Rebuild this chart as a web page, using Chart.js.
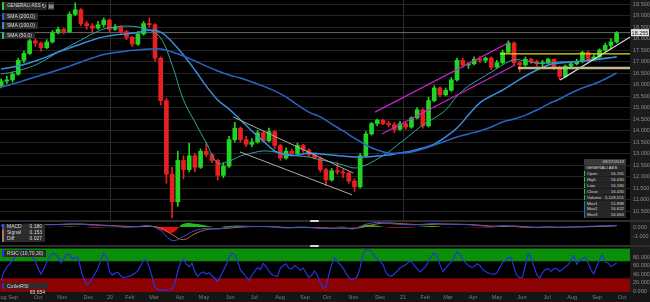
<!DOCTYPE html>
<html>
<head>
<meta charset="utf-8">
<script src="https://cdn.jsdelivr.net/npm/chart.js@4.4.1/dist/chart.umd.min.js"></script>
<style>
html, body { margin: 0; padding: 0; background: #000; width: 650px; height: 302px; overflow: hidden; }
body { font-family: "Liberation Sans", Arial, sans-serif; position: relative; }
canvas { position: absolute; left: 0; }
.blk { position: absolute; }
.lg { position: absolute; left: 2px; background: #2b2b2b; color: #dcdcdc; font-size: 5px; white-space: nowrap; padding: 0 3px 0 3px; box-sizing: border-box; }
.lg b { font-weight: normal; float: right; margin-left: 6px; }
.ico { position: absolute; top: 2px; width: 6px; height: 8px; background: #2b2b2b; color: #ccc; font-size: 6px; line-height: 8px; text-align: center; font-family: "DejaVu Sans", sans-serif; }
#info { position: absolute; left: 584px; top: 159px; width: 42px; background: #1d1d1d; font-size: 4.3px; color: #d8d8d8; }
#info div { height: 5.6px; line-height: 5.6px; padding: 0 2px; box-sizing: border-box; white-space: nowrap; }
#info .ih { background: #3a3a3a; text-align: right; }
#info .in { background: #2a2a2a; }
#info .ir { border-left: 1px solid #27c227; margin-top: 0.4px; background: #262626; }
#info .ir.m { border-left-color: #2f6fd0; }
#info .ir b { float: right; font-weight: normal; }
.handle { position: absolute; left: 310px; width: 9px; height: 2px; background: #d8d8d8; border-radius: 1px; }
</style>
</head>
<body>
<div class="blk" style="left:630px;top:0;width:20px;height:302px;background:#1c1c1c;"></div>
<div class="blk" style="left:0;top:292px;width:650px;height:10px;background:#151515;"></div>
<div class="blk" style="left:0;top:220px;width:650px;height:2px;background:#2e2e2e;"></div>
<div class="blk" style="left:0;top:245px;width:650px;height:2px;background:#2e2e2e;"></div>

<canvas id="priceChart" width="650" height="220" style="top:0"></canvas>
<canvas id="macdChart" width="650" height="23" style="top:222px"></canvas>
<canvas id="rsiChart" width="650" height="55" style="top:247px"></canvas>

<div class="handle" style="top:220px"></div>
<div class="handle" style="top:245px"></div>

<div class="lg" style="top:2px;height:8px;line-height:8px;font-size:4.6px;border-left:2px solid #2ecc2e;">GENERALI ASS</div>
<div class="ico" style="left:41px">&#8635;</div>
<div class="ico" style="left:48px">&#9636;</div>
<div class="lg" style="top:13px;height:7px;line-height:7px;border-left:2px solid #2a64c8;">SMA (200,0)</div>
<div class="lg" style="top:22px;height:7px;line-height:7px;border-left:2px solid #3a8ee0;">SMA (100,0)</div>
<div class="lg" style="top:32px;height:7px;line-height:7px;border-left:2px solid #2fb5a8;">SMA (50,0)</div>

<div id="info">
  <div class="ih">09/27/2019</div>
  <div class="in">GENERALI ASS</div>
  <div class="ir"><span>Open</span><b>16.265</b></div>
  <div class="ir"><span>High</span><b>16.430</b></div>
  <div class="ir"><span>Low</span><b>16.180</b></div>
  <div class="ir"><span>Close</span><b>16.430</b></div>
  <div class="ir"><span>Volume</span><b>5,128,551</b></div>
  <div class="ir m"><span>Mov1</span><b>15.898</b></div>
  <div class="ir m"><span>Mov2</span><b>16.622</b></div>
  <div class="ir m"><span>Mov3</span><b>16.663</b></div>
</div>

<div class="lg" style="top:224px;height:5.5px;line-height:5.5px;width:43px;border-left:2px solid #3355dd;">MACD<b>0.180</b></div>
<div class="lg" style="top:230px;height:5.5px;line-height:5.5px;width:43px;border-left:2px solid #d07030;">Signal<b>0.153</b></div>
<div class="lg" style="top:236px;height:5.5px;line-height:5.5px;width:43px;border-left:2px solid #888;">Diff<b>0.027</b></div>

<div class="lg" style="top:250px;height:7px;line-height:7px;border-left:2px solid #2535d8;">RSIC (10,70,30)</div>
<div class="lg" style="top:283px;height:6px;line-height:6px;width:46px;border-left:2px solid #2535d8;">CutlerRSI<b>65.654</b></div>

<script>
// weekly candles, week 0 = mid Aug 2019
const open  = [15.95,16.15,16.2,16.45,17.05,17.35,17.9,17.8,17.6,17.85,18.25,18.4,18.3,19.05,19.25,18.65,18.55,18.45,18.6,18.8,
               18.4,18.5,18.3,18.05,17.75,18.2,18.65,18.6,17.15,15.3,12.1,10.9,12.7,12.3,12.9,12.4,13.1,12.95,12.7,12.05,
               12.45,13.6,14.1,13.6,13.4,13.5,13.9,13.55,13.95,13.35,12.8,13.1,13.0,13.35,13.15,12.95,12.8,12.3,11.85,12.25,
               12.2,12.15,11.8,11.55,12.9,13.85,14.3,14.45,14.3,14.25,14.05,14.3,14.15,14.55,14.9,14.2,15.3,15.85,15.55,15.75,
               16.2,17.05,16.85,16.9,17.1,17.05,17.15,16.75,16.95,17.4,17.8,16.95,16.85,17.1,17.0,16.9,16.95,17.1,16.75,16.35,
               16.8,16.9,17.0,17.4,17.1,17.2,17.5,17.7,17.85];
const high  = [16.25,16.35,16.55,17.15,17.45,18.0,18.0,17.85,17.95,18.35,18.5,18.45,19.15,19.55,19.3,18.75,18.65,18.75,18.9,18.85,
               18.6,18.55,18.35,18.1,18.3,18.75,18.9,18.65,17.2,15.4,12.4,13.1,12.9,13.45,13.0,13.2,13.45,13.0,12.75,12.6,
               13.75,14.35,14.15,13.75,13.65,14.0,13.95,14.1,14.0,13.4,13.25,13.2,13.45,13.4,13.2,13.0,12.85,12.35,12.35,12.6,
               12.3,12.2,11.9,13.0,13.95,14.35,14.5,14.5,14.4,14.35,14.4,14.35,14.6,15.0,14.95,15.45,15.95,15.9,15.85,16.3,
               17.15,17.15,16.95,17.2,17.2,17.2,17.2,17.05,17.5,17.9,17.85,17.0,17.2,17.15,17.05,17.05,17.15,17.1,16.8,16.85,
               16.95,17.1,17.45,17.45,17.3,17.55,17.8,18.0,18.3];
const low   = [15.85,16.05,16.1,16.4,16.95,17.3,17.65,17.45,17.55,17.8,18.2,18.2,18.25,19.0,18.55,18.4,18.3,18.4,18.5,18.3,
               18.35,18.2,17.95,17.65,17.7,18.15,18.5,17.0,15.1,11.7,10.2,10.7,11.9,12.2,12.2,12.35,12.85,12.6,11.85,11.95,
               12.4,13.5,13.5,13.3,13.3,13.45,13.5,13.5,13.2,12.7,12.75,12.9,12.95,13.05,12.85,12.75,12.2,11.6,11.8,12.1,
               11.95,11.7,11.35,11.5,12.85,13.8,14.2,14.25,14.15,13.9,14.0,14.05,14.1,14.5,14.1,14.15,15.25,15.45,15.5,15.7,
               16.15,16.75,16.7,16.85,16.95,16.95,16.65,16.7,16.9,17.35,16.85,16.55,16.8,16.9,16.8,16.75,16.9,16.65,16.2,16.3,
               16.75,16.85,16.95,17.0,17.05,17.15,17.45,17.55,17.8];
const close = [16.15,16.2,16.45,17.05,17.35,17.9,17.8,17.6,17.85,18.25,18.4,18.3,19.05,19.25,18.65,18.55,18.45,18.6,18.8,18.4,
               18.5,18.3,18.05,17.75,18.2,18.65,18.6,17.15,15.3,12.1,10.9,12.7,12.3,12.9,12.4,13.1,12.95,12.7,12.05,12.45,
               13.6,14.1,13.6,13.4,13.5,13.9,13.55,13.95,13.35,12.8,13.1,13.0,13.35,13.15,12.95,12.8,12.3,11.85,12.25,12.2,
               12.15,11.8,11.55,12.9,13.85,14.3,14.45,14.3,14.25,14.05,14.3,14.15,14.55,14.9,14.2,15.3,15.85,15.55,15.75,16.2,
               17.05,16.85,16.9,17.1,17.05,17.15,16.75,16.95,17.4,17.8,16.95,16.85,17.1,17.0,16.9,16.95,17.1,16.75,16.35,16.8,
               16.9,17.0,17.4,17.1,17.2,17.5,17.7,17.85,18.25];

// moving averages, one value every 2 weeks
const sma200 = [15.89,16.02,16.17,16.33,16.48,16.63,16.80,16.98,17.15,17.30,17.39,17.46,17.50,17.54,17.54,17.41,17.24,17.02,16.80,16.59,
                16.41,16.28,16.11,15.93,15.72,15.46,15.11,14.80,14.59,14.28,13.98,13.67,13.37,13.15,13.02,13.02,13.07,13.20,13.37,13.54,
                13.72,13.85,13.98,14.15,14.37,14.50,14.67,14.89,15.15,15.37,15.63,15.85,16.02,16.24,16.50];
const sma100 = [16.67,16.76,16.87,17.02,17.20,17.41,17.59,17.76,17.93,18.07,18.15,18.20,18.26,18.37,18.28,17.85,17.28,16.63,15.93,15.33,
                14.93,14.46,13.98,13.54,13.11,12.93,12.93,13.02,12.98,12.93,12.89,12.85,12.85,12.89,12.93,13.02,13.11,13.24,13.41,13.72,
                14.11,14.67,15.20,15.50,15.76,16.07,16.37,16.63,16.85,16.93,16.98,17.02,17.07,17.13,17.20];
const sma50  = [16.46,16.54,16.67,16.85,17.11,17.41,17.67,17.93,18.20,18.41,18.50,18.54,18.50,18.37,18.02,16.85,15.33,14.37,13.46,12.59,
                12.67,12.89,13.02,13.11,13.07,12.98,12.89,12.85,12.72,12.63,12.50,12.37,12.50,12.76,13.07,13.46,13.85,14.24,14.54,14.89,
                15.50,15.93,16.24,16.54,16.85,17.07,17.02,16.93,16.93,16.98,16.98,17.02,17.11,17.15,17.20];

// MACD panel, one value every 2 weeks
const macdLine   = [0.20,0.25,0.30,0.30,0.25,0.28,0.35,0.32,0.20,0.15,0.10,0.00,0.05,0.15,-0.40,-1.50,-1.05,-0.40,-0.15,-0.20,
                    0.00,0.10,0.05,0.05,0.00,-0.10,-0.05,-0.05,-0.15,-0.15,-0.10,-0.20,0.30,0.50,0.40,0.30,0.25,0.30,0.40,0.30,
                    0.30,0.25,0.15,0.05,0.15,0.10,-0.05,-0.05,0.00,-0.05,0.00,0.05,0.10,0.15,0.18];
const signalLine = [0.15,0.20,0.24,0.28,0.28,0.27,0.30,0.32,0.27,0.20,0.14,0.07,0.03,0.08,-0.10,-0.85,-1.40,-0.75,-0.30,-0.20,
                    -0.12,-0.02,0.05,0.05,0.03,-0.05,-0.07,-0.06,-0.10,-0.13,-0.12,-0.15,0.05,0.35,0.45,0.38,0.30,0.25,0.30,0.33,
                    0.30,0.28,0.20,0.10,0.08,0.10,0.03,-0.03,-0.02,-0.02,-0.01,0.01,0.05,0.10,0.15];
const diffHist   = [0.05,0.05,0.06,0.02,-0.03,0.01,0.05,0.00,-0.07,-0.05,-0.04,-0.07,0.02,0.07,-0.30,-0.65,0.35,0.35,0.15,0.00,
                    0.12,0.12,0.00,0.00,-0.03,-0.05,0.02,0.01,-0.05,-0.02,0.02,-0.05,0.25,0.15,-0.05,-0.08,-0.05,0.05,0.10,-0.03,
                    0.00,-0.03,-0.05,-0.05,0.07,0.00,-0.08,-0.02,0.02,-0.03,0.01,0.04,0.05,0.05,0.03];

// Cutler RSI, one value every half week
const rsiVal = [25,45,57,64,72,81,86,92,99,92, 86,79,70,52,40,52,67,80,89,86, 80,66,75,87,84,75,79,78,50,28,
                15,19,30,41,54,73,90,80,46,38, 42,44,35,31,33,35,38,42,48,60, 72,74,55,33,8,4,2,3,2,3,
                5,19,47,68,75,63,57,66,45,34, 42,45,40,43,36,30,22,35,48,62, 78,90,85,70,49,42,33,25,37,47,
                55,50,65,57,47,39,36,34,54,60, 64,53,52,60,55,49,54,42,32,37, 47,37,20,6,10,38,62,78,70,62,
                54,42,32,27,29,34,55,87,97,97, 93,83,75,70,62,44,36,35,40,47, 54,58,62,68,70,60,52,45,51,58,
                70,82,90,80,62,46,53,62,68,78, 92,88,74,66,60,56,57,64,60,50, 46,42,40,39,43,55,68,71,79,78,
                55,36,31,33,60,88,77,57,38,30, 43,51,52,46,53,53,46,51,57,62, 72,83,63,72,76,80,66,50,40,58,
                73,85,68,66,57,62,66];

// drawn objects: [week, price] end points
const downUpper  = [[40.7, 14.59], [61.8, 12.15]];
const downLower  = [[41.9, 13.07], [61.6, 11.20]];
const upUpper    = [[65.6, 14.80], [89.3, 17.85]];
const upLower    = [[66.8, 13.85], [90.2, 16.85]];
const resistance = [[87.5, 17.33], [110.4, 17.33]];
const support    = [[90.7, 16.72], [110.4, 16.72]];
const riseLine   = [[98.1, 16.20], [110.4, 18.07]];
const lastPrice = 18.255;

// time axis labels (week positions)
const monthLabels = ['Aug','Sep','Oct','Nov','Dec','20','Feb','Mar','Apr','May','Jun','Jul','Aug','Sep',
                     'Oct','Nov','Dec','21','Feb','Mar','Apr','May','Jun','Jul','Aug','Sep','Oct'];
const monthPos = [0.1,2.1,6.5,10.7,15.3,19.1,22.6,26.8,31.4,35.6,40.2,44.4,48.9,53.3,
                  57.2,61.8,66.5,70.5,74.4,78.4,82.8,87.0,91.4,95.8,100.2,104.6,109.0];
const yearBreaks = [19.1, 70.5];
const priceStep = 0.5;
const macdTicks = [0, -1];
const rsiTicks = [80, 60, 40, 20, 0];

const smaStep = 2, rsiStep = 0.5;
const xMin = -0.2, xMax = 110.35;
const UP = '#22d522', DOWN = '#e82020';
const FONT = { family: 'Liberation Sans', size: 5.5 };

const xScale = () => ({ type: 'linear', min: xMin, max: xMax, display: false, offset: false, grid: { offset: false } });

function rightAxis(min, max, gridColor, tickList, step) {
    return {
        position: 'right', min: min, max: max,
        grid: { display: !!gridColor, color: gridColor, drawTicks: false },
        border: { display: false },
        ticks: { color: '#8c8c8c', padding: 3, font: FONT, includeBounds: false, stepSize: step,
                 callback: v => v.toFixed(3) },
        afterBuildTicks: s => { if (tickList) s.ticks = tickList.map(v => ({ value: v })); },
        afterFit: s => { s.width = 20; s.paddingTop = 0; s.paddingBottom = 0; }
    };
}

const seg = (pts, color, width, order) => ({
    type: 'line', data: pts.map(p => ({ x: p[0], y: p[1] })),
    borderColor: color, borderWidth: width, pointRadius: 0, order: order
});
const smaSet = (arr, color, width) => ({
    type: 'line', data: arr.map((v, k) => ({ x: k * smaStep, y: v })),
    borderColor: color, borderWidth: width, pointRadius: 0, tension: 0.4, order: 3
});

Chart.defaults.animation = false;
Chart.defaults.events = [];
Chart.defaults.plugins.legend.display = false;
Chart.defaults.plugins.tooltip.enabled = false;

const candleColors = close.map((c, i) => c >= open[i] ? UP : DOWN);

// year separators and the last price tag
const priceExtras = {
    id: 'priceExtras',
    beforeDatasetsDraw(chart) {
        const { ctx, chartArea, scales } = chart;
        ctx.save();
        ctx.strokeStyle = '#2c2c2c';
        ctx.lineWidth = 1;
        yearBreaks.forEach(w => {
            const px = Math.round(scales.x.getPixelForValue(w)) + 0.5;
            ctx.beginPath(); ctx.moveTo(px, chartArea.top); ctx.lineTo(px, chartArea.bottom); ctx.stroke();
        });
        ctx.restore();
    },
    afterDraw(chart) {
        const { ctx, chartArea, scales } = chart;
        const py = scales.y.getPixelForValue(lastPrice);
        ctx.save();
        ctx.fillStyle = '#e4e4e4';
        ctx.fillRect(chartArea.right + 1, py - 3.5, 18, 7);
        ctx.fillStyle = '#111';
        ctx.font = '5.5px "Liberation Sans"';
        ctx.textAlign = 'center';
        ctx.textBaseline = 'middle';
        ctx.fillText(lastPrice.toFixed(3), chartArea.right + 10, py + 0.5);
        ctx.restore();
    }
};

new Chart(document.getElementById('priceChart'), {
    type: 'bar',
    data: {
        datasets: [
            seg(downUpper, '#b3aa9e', 1, 1),
            seg(downLower, '#b3aa9e', 1, 1),
            seg(upUpper, '#d021d0', 1.2, 1),
            seg(upLower, '#d021d0', 1.2, 1),
            seg(resistance, '#e4dd1e', 1.2, 1),
            seg(support, '#c4bb86', 2.5, 1),
            seg(riseLine, '#e6e6e6', 1.2, 1),
            smaSet(sma200, '#2a64c8', 1.5),
            smaSet(sma100, '#3a8ee0', 1.5),
            smaSet(sma50, '#2fa89c', 1),
            {
                label: 'body', data: open.map((o, i) => ({ x: i, y: [o, close[i]] })),
                backgroundColor: candleColors, barThickness: 4, minBarLength: 1, grouped: false, order: 4
            },
            {
                label: 'wick', data: low.map((l, i) => ({ x: i, y: [l, high[i]] })),
                backgroundColor: candleColors, barThickness: 1, grouped: false, order: 5
            },
            seg([[xMin, lastPrice], [xMax, lastPrice]], '#6c6c6c', 1, 10)
        ]
    },
    options: {
        responsive: false,
        layout: { padding: 0 },
        scales: {
            x: xScale(),
            y: rightAxis(19.5 + 4 / 23 - 220 / 23, 19.5 + 4 / 23, '#242424', null, priceStep)
        }
    },
    plugins: [priceExtras]
});

new Chart(document.getElementById('macdChart'), {
    type: 'line',
    data: {
        datasets: [
            { data: macdLine.map((v, k) => ({ x: k * smaStep, y: v })), borderColor: '#3355dd', borderWidth: 1, pointRadius: 0, tension: 0.4, order: 1 },
            { data: signalLine.map((v, k) => ({ x: k * smaStep, y: v })), borderColor: '#c8642c', borderWidth: 1, pointRadius: 0, tension: 0.4, order: 2 },
            {
                data: diffHist.map((v, k) => ({ x: k * smaStep, y: v })), borderWidth: 0, pointRadius: 0, tension: 0.4,
                fill: { target: 'origin', above: '#22b822', below: '#e01010' }, order: 3
            }
        ]
    },
    options: {
        responsive: false,
        layout: { padding: 0 },
        scales: {
            x: xScale(),
            y: rightAxis(5 / 9 - 23 / 9, 5 / 9, null, macdTicks)
        }
    }
});

// indicator zones and month labels
const rsiExtras = {
    id: 'rsiExtras',
    beforeDatasetsDraw(chart) {
        const { ctx, chartArea, scales: { y } } = chart;
        ctx.save();
        ctx.fillStyle = '#0b8f0b';
        ctx.fillRect(chartArea.left, y.getPixelForValue(100), chartArea.width, y.getPixelForValue(70) - y.getPixelForValue(100));
        ctx.fillStyle = '#8d0303';
        ctx.fillRect(chartArea.left, y.getPixelForValue(30), chartArea.width, chartArea.bottom - y.getPixelForValue(30));
        ctx.restore();
    },
    afterDraw(chart) {
        const { ctx, chartArea, scales: { x } } = chart;
        ctx.save();
        ctx.font = '5.5px "Liberation Sans"';
        ctx.fillStyle = '#7c7c7c';
        ctx.textAlign = 'center';
        ctx.textBaseline = 'middle';
        monthPos.forEach((w, k) => ctx.fillText(monthLabels[k], x.getPixelForValue(w), chartArea.bottom + 5));
        ctx.restore();
    }
};

new Chart(document.getElementById('rsiChart'), {
    type: 'line',
    data: {
        datasets: [{
            data: rsiVal.map((v, j) => ({ x: j * rsiStep, y: v })),
            borderColor: '#2536dc', borderWidth: 1.2, pointRadius: 0, tension: 0
        }]
    },
    options: {
        responsive: false,
        layout: { padding: { bottom: 10 } },
        scales: {
            x: xScale(),
            y: rightAxis(-1 / 0.425, 44 / 0.425, null, rsiTicks)
        }
    },
    plugins: [rsiExtras]
});
</script>
</body>
</html>
